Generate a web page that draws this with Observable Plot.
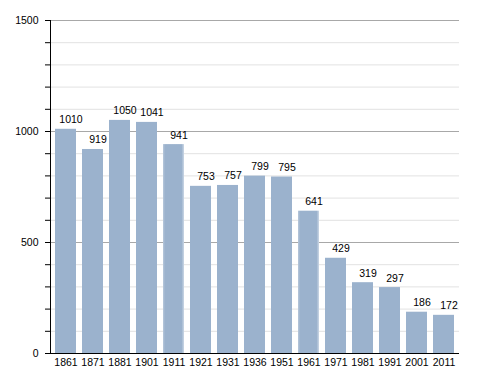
<!DOCTYPE html>
<html>
<head>
<meta charset="utf-8">
<script src="https://cdn.jsdelivr.net/npm/d3@7"></script>
<script src="https://cdn.jsdelivr.net/npm/@observablehq/plot@0.6"></script>
<style>
  html, body { margin: 0; padding: 0; background: #fff; }
  svg { display: block; }
</style>
</head>
<body>
<div id="chart"></div>
<script>
const years = ["1861","1871","1881","1901","1911","1921","1931","1936","1951","1961","1971","1981","1991","2001","2011"];
const population = [1010, 919, 1050, 1041, 941, 753, 757, 799, 795, 641, 429, 319, 297, 186, 172];
const glowYears = ["1911", "1961"];
const minorTicks = d3.range(0, 1501, 100);
const majorTicks = [0, 500, 1000, 1500];

const data = years.map((y, i) => ({year: y, value: population[i]}));
const barColor = "#9bb2cd";

const chart = Plot.plot({
  width: 488,
  height: 373,
  marginLeft: 50,
  marginRight: 29,
  marginTop: 20,
  marginBottom: 20,
  style: {fontFamily: "'Liberation Sans', Arial, sans-serif", fontSize: "10px", color: "#000", background: "#fff"},
  x: {domain: years, paddingInner: 0.24, paddingOuter: 0, label: null},
  y: {domain: [0, 1500], label: null},
  marks: [
    Plot.ruleY(minorTicks.filter(d => d % 500 !== 0), {stroke: "#e2e2e2", strokeWidth: 1}),
    Plot.ruleY(majorTicks.filter(d => d > 0), {stroke: "#a8a8a8", strokeWidth: 1}),
    Plot.barY(data.filter(d => !glowYears.includes(d.year)), {x: "year", y: "value", fill: barColor}),
    Plot.barY(data.filter(d => glowYears.includes(d.year)), {x: "year", y: "value", fill: "url(#glow)"}),
    Plot.text(data, {x: "year", y: "value", text: d => String(d.value), dx: 5, dy: -6, lineAnchor: "bottom", fill: "#000", fontSize: 10.5}),
    Plot.axisY(minorTicks, {tickSize: 5, text: null, stroke: "#000"}),
    Plot.axisY(majorTicks, {tickSize: 5, tickPadding: 7, tickFormat: d => String(d), fontSize: 10.5, fill: "#000"}),
    Plot.axisX({tickSize: 0, tickPadding: 5, fontSize: 10.5, fill: "#000"}),
    Plot.frame({anchor: "left", stroke: "#000"}),
    Plot.ruleY([0], {stroke: "#000"})
  ]
});
const svg = d3.select(chart);
const grad = svg.insert("defs", ":first-child")
  .append("linearGradient").attr("id", "glow").attr("x1", "0").attr("x2", "1").attr("y1", "0").attr("y2", "0");
grad.append("stop").attr("offset", "0%").attr("stop-color", "#b8c8db");
grad.append("stop").attr("offset", "10%").attr("stop-color", barColor);
grad.append("stop").attr("offset", "88%").attr("stop-color", barColor);
grad.append("stop").attr("offset", "100%").attr("stop-color", "#cbd7e5");
document.getElementById("chart").appendChild(chart);
</script>
</body>
</html>
